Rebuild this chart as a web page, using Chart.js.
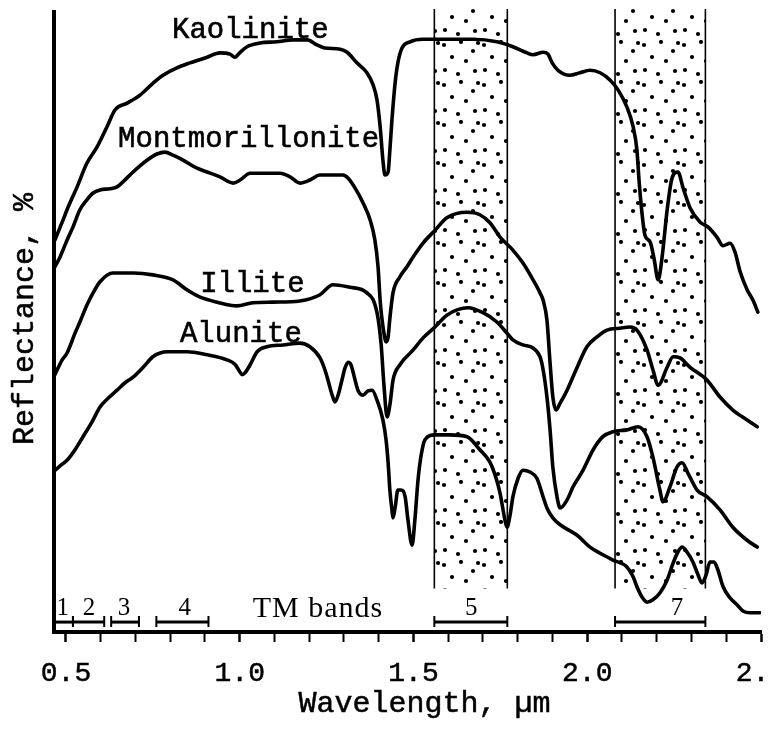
<!DOCTYPE html>
<html><head><meta charset="utf-8">
<script src="https://cdn.jsdelivr.net/npm/chart.js@4/dist/chart.umd.min.js"></script>
<style>html,body{margin:0;padding:0;background:#fff;}canvas{display:block;}</style>
</head><body>
<canvas id="c" width="768" height="738"></canvas>
<script>
// ---- data (wavelength in µm, reflectance in relative units) ----
const kaoliniteWl = [0.468,0.489,0.503,0.532,0.560,0.589,0.618,0.641,0.676,0.713,0.750,0.779,0.819,0.857,0.906,0.943,0.972,0.986,1.001,1.021,1.058,1.107,1.153,1.194,1.222,1.245,1.289,1.309,1.337,1.366,1.384,1.395,1.404,1.412,1.418,1.427,1.432,1.438,1.447,1.455,1.467,1.490,1.527,1.596,1.671,1.740,1.786,1.827,1.844,1.873,1.887,1.899,1.916,1.950,1.979,2.008,2.037,2.066,2.089,2.114,2.132,2.143,2.149,2.158,2.166,2.181,2.192,2.204,2.215,2.230,2.244,2.261,2.276,2.296,2.325,2.348,2.373,2.391,2.411,2.425,2.440,2.460,2.477,2.491];
const kaoliniteR = [63.2,66.1,68.1,71.8,75.6,78.2,81.5,84.2,85.3,86.6,88.5,89.8,91.0,91.8,92.7,93.4,93.2,92.7,93.5,94.4,95.0,95.2,95.5,95.5,94.7,94.2,94.0,93.5,91.8,90.2,88.2,85.8,81.5,76.1,73.7,74.2,77.7,82.6,88.5,91.8,94.2,95.2,95.6,95.6,95.6,95.2,94.4,93.4,93.1,93.5,93.2,91.8,90.6,89.8,90.2,90.6,90.2,89.0,87.4,84.7,81.5,77.7,72.9,67.3,64.0,62.9,60.3,56.8,60.3,68.1,73.2,74.2,71.6,68.4,66.1,65.3,63.7,62.3,62.7,61.3,58.1,55.2,53.5,51.6];

const montmorilloniteWl = [0.468,0.483,0.503,0.520,0.540,0.560,0.578,0.598,0.627,0.647,0.664,0.693,0.733,0.762,0.785,0.808,0.837,0.877,0.906,0.943,0.981,1.001,1.030,1.067,1.116,1.145,1.173,1.202,1.231,1.268,1.297,1.312,1.332,1.355,1.375,1.389,1.398,1.404,1.409,1.415,1.421,1.427,1.432,1.441,1.461,1.481,1.499,1.527,1.562,1.596,1.654,1.691,1.720,1.749,1.786,1.815,1.844,1.864,1.873,1.884,1.893,1.901,1.910,1.922,1.942,1.971,1.999,2.028,2.057,2.094,2.123,2.143,2.172,2.189,2.204,2.230,2.247,2.267,2.296,2.345,2.382,2.419,2.460,2.489];
const montmorilloniteR = [58.9,60.5,63.2,65.3,68.1,69.7,70.8,71.3,71.5,71.8,72.6,74.2,76.1,77.1,77.4,76.9,76.1,74.8,74.2,73.4,72.4,72.9,74.0,74.0,74.0,73.4,72.4,72.9,73.7,73.7,73.7,73.2,71.6,69.2,66.5,63.2,58.9,53.5,50.6,48.2,46.8,47.6,50.6,54.7,57.3,58.9,60.5,62.7,64.8,66.8,67.7,67.3,66.0,63.7,61.6,59.5,56.8,54.7,53.5,50.3,43.4,37.9,35.8,36.9,39.0,42.7,46.0,47.6,48.7,49.0,49.2,48.7,45.5,42.3,39.8,42.7,44.4,44.2,42.7,40.6,37.9,35.8,34.2,33.1];

const illiteWl = [0.468,0.489,0.503,0.526,0.540,0.560,0.578,0.598,0.635,0.693,0.750,0.808,0.848,0.886,0.935,0.992,1.038,1.096,1.173,1.231,1.268,1.317,1.366,1.395,1.407,1.415,1.424,1.432,1.441,1.461,1.499,1.527,1.562,1.596,1.657,1.700,1.740,1.769,1.786,1.815,1.844,1.864,1.873,1.884,1.893,1.901,1.913,1.922,1.942,1.959,1.988,2.017,2.045,2.074,2.114,2.146,2.172,2.189,2.209,2.218,2.238,2.258,2.273,2.290,2.316,2.345,2.382,2.419,2.460,2.489];
const illiteR = [41.5,43.9,45.0,48.2,50.0,52.7,54.7,56.5,57.9,57.9,57.6,56.8,55.2,54.0,53.2,52.6,53.1,53.2,53.4,54.4,56.0,55.6,54.7,51.5,46.3,39.8,34.7,36.6,40.6,43.1,45.5,47.4,49.2,51.1,52.3,51.5,50.0,48.2,47.1,46.3,45.8,44.4,42.3,37.9,32.6,26.6,21.8,20.0,21.3,23.4,26.1,29.4,31.5,32.3,32.6,33.1,31.5,28.2,22.9,21.0,23.4,26.6,27.3,25.6,22.9,21.8,19.7,16.9,14.8,13.7];

const aluniteWl = [0.463,0.483,0.503,0.526,0.549,0.575,0.598,0.621,0.647,0.670,0.693,0.722,0.750,0.771,0.791,0.848,0.906,0.963,0.986,1.001,1.007,1.015,1.030,1.050,1.078,1.125,1.173,1.202,1.231,1.245,1.254,1.266,1.274,1.283,1.294,1.303,1.312,1.320,1.332,1.340,1.355,1.369,1.381,1.395,1.412,1.421,1.427,1.432,1.438,1.441,1.447,1.455,1.464,1.476,1.484,1.496,1.504,1.513,1.522,1.533,1.562,1.605,1.654,1.691,1.720,1.735,1.749,1.763,1.769,1.778,1.786,1.801,1.815,1.835,1.855,1.873,1.884,1.901,1.922,1.971,2.008,2.037,2.074,2.114,2.132,2.143,2.158,2.172,2.189,2.209,2.230,2.247,2.261,2.273,2.287,2.304,2.319,2.330,2.342,2.353,2.365,2.376,2.391,2.411,2.431,2.448,2.468,2.497];
const aluniteR = [25.8,26.8,27.7,29.4,31.5,33.9,36.3,37.7,39.0,40.2,41.1,42.7,44.4,45.0,45.2,45.2,44.7,43.9,43.2,41.9,41.5,41.8,43.1,45.2,46.0,46.3,46.6,46.0,44.2,42.3,40.6,38.2,37.1,38.2,40.6,42.6,43.5,43.1,40.6,39.0,38.2,38.9,39.0,37.4,34.2,31.0,27.3,22.9,19.7,18.4,20.0,22.9,22.9,21.8,18.1,14.0,18.1,24.5,28.5,31.0,31.8,31.8,31.5,29.4,27.4,25.3,22.4,18.1,16.9,18.9,21.8,24.8,26.1,25.8,24.8,21.8,20.0,18.4,17.3,15.6,13.7,12.7,11.6,10.5,8.9,7.3,5.6,4.8,5.2,6.3,8.4,11.1,12.9,13.7,12.9,11.3,9.2,7.9,9.2,11.3,11.3,10.0,7.3,5.5,4.4,3.4,3.1,3.1];

const mineralNames = ['Kaolinite','Montmorillonite','Illite','Alunite'];

// Landsat TM bands (µm) as drawn on the figure
const tmNames = ['1','2','3','4','5','7'];
const tmStart = [0.45,0.52,0.63,0.76,1.56,2.08];
const tmEnd   = [0.52,0.61,0.71,0.91,1.77,2.34];
// stippled (shaded) band windows
const shadeStart = [1.56,2.08];
const shadeEnd   = [1.77,2.34];

// x-axis
const xMin = 0.4655, xMax = 2.5, xStep = 0.1, xMajor = 0.5;

// ---- layout / style (not data) ----
const labelWl = [0.805,0.650,0.886,0.828];
const labelR  = [95.8,78.2,54.8,46.8];
const tmLabelWl = [0.491,0.566,0.667,0.842,1.666,2.258];
const TM_TITLE_WL = 1.225;
const TM_BAR_R = 1.6, TM_LABEL_R = 2.7, SHADE_BOTTOM_R = 7.0;
const DOTS = [[4,5],[21,2],[33,11],[12,17],[26,21],[5,30],[18,34],[35,31],[38,3]];
const MONO = '"Liberation Mono", "Courier New", monospace';
const SERIF = '"Liberation Serif", "Times New Roman", serif';

function series(wl, r){ return wl.map((x,i)=>({x, y:r[i]})); }
const allWl = [kaoliniteWl, montmorilloniteWl, illiteWl, aluniteWl];
const allR = [kaoliniteR, montmorilloniteR, illiteR, aluniteR];

function makePattern(ctx){
  const c = document.createElement('canvas'); c.width = 40; c.height = 40;
  const g = c.getContext('2d'); g.fillStyle = '#000';
  for (const [dx,dy] of DOTS){ g.beginPath(); g.arc(dx,dy,2.1,0,Math.PI*2); g.fill(); }
  return ctx.createPattern(c,'repeat');
}
function boldText(ctx, s, x, y){ ctx.fillText(s, x, y); ctx.strokeText(s, x, y); }

const decor = {
  id:'decor',
  beforeDatasetsDraw(chart){
    const {ctx, scales:{x:xs, y:ys}} = chart;
    const pat = makePattern(ctx);
    ctx.save();
    for (let i=0;i<shadeStart.length;i++){
      const x1 = xs.getPixelForValue(shadeStart[i]), x2 = xs.getPixelForValue(shadeEnd[i]);
      const yT = ys.getPixelForValue(ys.max) - 3, yB = ys.getPixelForValue(SHADE_BOTTOM_R);
      ctx.fillStyle = pat; ctx.fillRect(x1, yT, x2-x1, yB-yT);
      ctx.strokeStyle = '#000'; ctx.lineWidth = 1.6;
      ctx.beginPath(); ctx.moveTo(x1,yT); ctx.lineTo(x1,yB); ctx.moveTo(x2,yT); ctx.lineTo(x2,yB); ctx.stroke();
    }
    ctx.restore();
  },
  afterDraw(chart){
    const {ctx, chartArea:ca, scales:{x:xs, y:ys}} = chart;
    ctx.save();
    ctx.fillStyle = '#000'; ctx.strokeStyle = '#000';
    // mineral labels
    ctx.font = '29px ' + MONO; ctx.textAlign = 'left'; ctx.textBaseline = 'alphabetic';
    ctx.lineWidth = 0.6;
    mineralNames.forEach((n,i)=> boldText(ctx, n, xs.getPixelForValue(labelWl[i]), ys.getPixelForValue(labelR[i])));
    // TM band bars
    const yb = ys.getPixelForValue(TM_BAR_R);
    for (let i=0;i<tmNames.length;i++){
      const a = Math.max(tmStart[i], xs.min), b = tmEnd[i];
      const x1 = xs.getPixelForValue(a), x2 = xs.getPixelForValue(b);
      ctx.lineWidth = 3;
      ctx.beginPath(); ctx.moveTo(x1,yb); ctx.lineTo(x2,yb); ctx.stroke();
      ctx.lineWidth = 2;
      ctx.beginPath();
      if (tmStart[i] >= xs.min){ ctx.moveTo(x1,yb-6); ctx.lineTo(x1,yb+5); }
      ctx.moveTo(x2,yb-6); ctx.lineTo(x2,yb+5); ctx.stroke();
    }
    ctx.font = '25px ' + SERIF; ctx.textAlign = 'center';
    const yl = ys.getPixelForValue(TM_LABEL_R);
    tmNames.forEach((n,i)=> ctx.fillText(n, xs.getPixelForValue(tmLabelWl[i]), yl));
    ctx.font = '30px ' + SERIF;
    try { ctx.letterSpacing = '1px'; } catch(e){}
    ctx.fillText('TM bands', xs.getPixelForValue(TM_TITLE_WL), yl + 2);
    try { ctx.letterSpacing = '0px'; } catch(e){}
    // axis titles
    ctx.font = '30px ' + MONO; ctx.textAlign = 'center'; ctx.lineWidth = 0.5;
    boldText(ctx, 'Wavelength, \u00b5m', (ca.left+ca.right)/2 + 17, ca.bottom + 80);
    ctx.translate(33, (ca.top+ca.bottom)/2 - 3);
    ctx.rotate(-Math.PI/2);
    boldText(ctx, 'Reflectance, %', 0, 0);
    ctx.restore();
  }
};

const isMajor = v => Math.abs(v/xMajor - Math.round(v/xMajor)) < 1e-6;

new Chart(document.getElementById('c'), {
  type:'line',
  data:{ datasets: mineralNames.map((n,i)=>({
    label:n, data: series(allWl[i], allR[i]),
    borderColor:'#000', borderWidth:3.6, pointRadius:0, fill:false,
    cubicInterpolationMode:'monotone', borderJoinStyle:'round', borderCapStyle:'round'
  }))},
  options:{
    responsive:false, animation:false, devicePixelRatio:1,
    layout:{ padding:{ top:12, right:7, bottom:0, left:0 } },
    plugins:{ legend:{display:false}, tooltip:{enabled:false} },
    scales:{
      x:{ type:'linear', min:xMin, max:xMax,
        afterFit(s){ s.height = 106; s.paddingLeft = 0; s.paddingRight = 0; },
        afterBuildTicks(s){ s.ticks = s.ticks.filter(t => t.value > xMin + 1e-6); },
        ticks:{ stepSize:xStep, includeBounds:false, autoSkip:false, maxRotation:0, minRotation:0,
          padding:18, color:'#000', textStrokeColor:'#000', textStrokeWidth:0.5,
          font:{ family:MONO, size:28, lineHeight:1 },
          callback:(v)=> isMajor(v) ? Number(v).toFixed(1) : '' },
        grid:{ display:true, drawOnChartArea:false, drawTicks:true, tickLength:10,
          tickWidth:(c)=> (c.tick && isMajor(c.tick.value)) ? 2.5 : 2, tickColor:'#000' },
        border:{ display:true, color:'#000', width:4 }
      },
      y:{ type:'linear', min:0, max:100,
        afterFit(s){ s.width = 54; },
        ticks:{ display:false }, grid:{ display:false },
        border:{ display:true, color:'#000', width:4 }
      }
    }
  },
  plugins:[decor]
});
</script>
</body></html>
